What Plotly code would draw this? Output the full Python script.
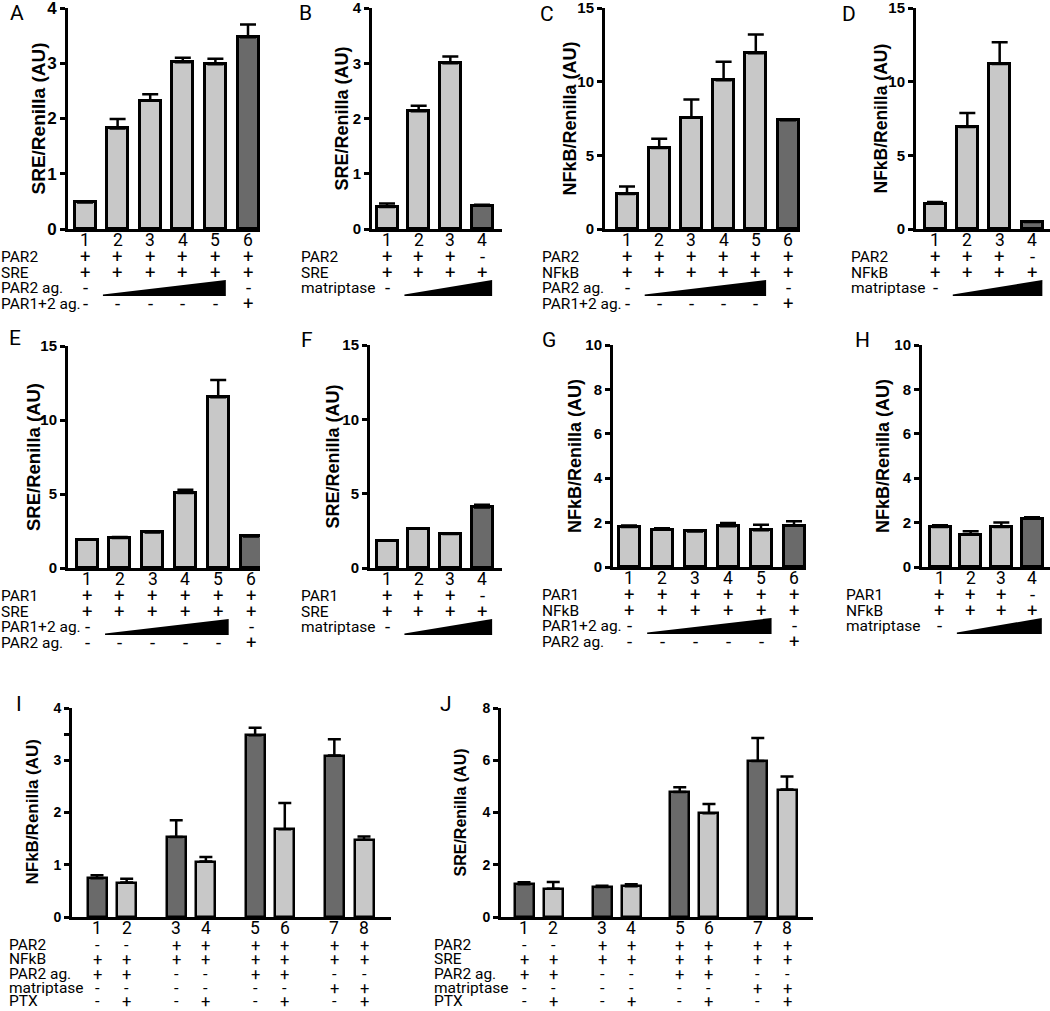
import plotly.graph_objects as go

W, H = 1050, 1011
LIGHT = "#c8c8c8"
DARK = "#6a6a6a"
FONT = "Roboto, 'Open Sans', sans-serif"
BOLD = "'Liberation Sans', Arial, sans-serif"

# ---------------- data ----------------
A_vals = [0.48, 1.82, 2.32, 3.02, 2.98, 3.47]
A_err = [0.0, 0.17, 0.12, 0.08, 0.10, 0.23]
A_dark = [0, 0, 0, 0, 0, 1]

B_vals = [0.40, 2.13, 3.00, 0.42]
B_err = [0.06, 0.10, 0.12, 0.02]
B_dark = [0, 0, 0, 1]

C_vals = [2.38, 5.50, 7.55, 10.10, 11.93, 7.38]
C_err = [0.50, 0.63, 1.24, 1.25, 1.27, 0.05]
C_dark = [0, 0, 0, 0, 0, 1]

D_vals = [1.72, 6.92, 11.20, 0.47]
D_err = [0.11, 0.95, 1.47, 0.0]
D_dark = [0, 0, 0, 1]

E_vals = [1.91, 2.02, 2.40, 5.06, 11.53, 2.13]
E_err = [0.0, 0.07, 0.05, 0.22, 1.17, 0.09]
E_dark = [0, 0, 0, 0, 0, 1]

F_vals = [1.83, 2.64, 2.28, 4.07]
F_err = [0.0, 0.0, 0.0, 0.18]
F_dark = [0, 0, 0, 1]

G_vals = [1.80, 1.68, 1.60, 1.83, 1.65, 1.86]
G_err = [0.07, 0.07, 0.06, 0.15, 0.25, 0.20]
G_dark = [0, 0, 0, 0, 0, 1]

H_vals = [1.80, 1.46, 1.80, 2.18]
H_err = [0.08, 0.15, 0.21, 0.06]
H_dark = [0, 0, 0, 1]

I_vals = [0.74, 0.66, 1.53, 1.06, 3.48, 1.68, 3.09, 1.48]
I_err = [0.06, 0.07, 0.32, 0.09, 0.14, 0.50, 0.31, 0.06]
I_dark = [1, 0, 1, 0, 1, 0, 1, 0]

J_vals = [1.25, 1.08, 1.15, 1.18, 4.78, 3.97, 5.97, 4.88]
J_err = [0.08, 0.26, 0.05, 0.07, 0.19, 0.36, 0.88, 0.50]
J_dark = [1, 0, 1, 0, 1, 0, 1, 0]

# bar positions for panels I/J (four pairs)
PAIR_POS = [0, 1, 2.67, 3.67, 5.33, 6.33, 8, 9]

# condition rows (None marks the concentration wedge)
A_rows = [("PAR2", ["+"] * 6), ("SRE", ["+"] * 6),
          ("PAR2 ag.", ["-", None, None, None, None, "-"]),
          ("PAR1+2 ag.", ["-", "-", "-", "-", "-", "+"])]
B_rows = [("PAR2", ["+", "+", "+", "-"]), ("SRE", ["+"] * 4),
          ("matriptase", ["-", None, None, None])]
C_rows = [("PAR2", ["+"] * 6), ("NFkB", ["+"] * 6),
          ("PAR2 ag.", ["-", None, None, None, None, "-"]),
          ("PAR1+2 ag.", ["-", "-", "-", "-", "-", "+"])]
D_rows = [("PAR2", ["+", "+", "+", "-"]), ("NFkB", ["+"] * 4),
          ("matriptase", ["-", None, None, None])]
E_rows = [("PAR1", ["+"] * 6), ("SRE", ["+"] * 6),
          ("PAR1+2 ag.", ["-", None, None, None, None, "-"]),
          ("PAR2 ag.", ["-", "-", "-", "-", "-", "+"])]
F_rows = [("PAR1", ["+", "+", "+", "-"]), ("SRE", ["+"] * 4),
          ("matriptase", ["-", None, None, None])]
G_rows = [("PAR1", ["+"] * 6), ("NFkB", ["+"] * 6),
          ("PAR1+2 ag.", ["-", None, None, None, None, "-"]),
          ("PAR2 ag.", ["-", "-", "-", "-", "-", "+"])]
H_rows = [("PAR1", ["+", "+", "+", "-"]), ("NFkB", ["+"] * 4),
          ("matriptase", ["-", None, None, None])]
I_rows = [("PAR2", ["-", "-", "+", "+", "+", "+", "+", "+"]),
          ("NFkB", ["+"] * 8),
          ("PAR2 ag.", ["+", "+", "-", "-", "+", "+", "-", "-"]),
          ("matriptase", ["-", "-", "-", "-", "-", "-", "+", "+"]),
          ("PTX", ["-", "+", "-", "+", "-", "+", "-", "+"])]
J_rows = [("PAR2", ["-", "-", "+", "+", "+", "+", "+", "+"]),
          ("SRE", ["+"] * 8),
          ("PAR2 ag.", ["+", "+", "-", "-", "+", "+", "-", "-"]),
          ("matriptase", ["-", "-", "-", "-", "-", "-", "+", "+"]),
          ("PTX", ["-", "+", "-", "+", "-", "+", "-", "+"])]

SRE_T = "SRE/Renilla (AU)"
NFKB_T = "NFkB/Renilla (AU)"

TOP_OFF = [28, 44, 59, 75]
BOT_OFF = [28, 42, 57, 71, 84]

panels = [
    dict(L="A", v=A_vals, e=A_err, d=A_dark, box=(68, 260, 8, 229), c=(85, 248), ymax=4,
         tv=[0, 1, 2, 3, 4], title=SRE_T, rows=A_rows, off=TOP_OFF, lx=0, lp=(17, 13),
         tfs=17, ttl=(38, 19)),
    dict(L="B", v=B_vals, e=B_err, d=B_dark, box=(372, 502, 8, 229), c=(387, 482), ymax=4,
         tv=[0, 1, 2, 3, 4], title=SRE_T, rows=B_rows, off=TOP_OFF, lx=300, lp=(305, 13),
         ttl=(341, 18)),
    dict(L="C", v=C_vals, e=C_err, d=C_dark, box=(605, 800, 8, 229), c=(627, 788), ymax=15,
         tv=[0, 5, 10, 15], title=NFKB_T, rows=C_rows, off=TOP_OFF, lx=541, lp=(547, 14),
         ttl=(569, 18)),
    dict(L="D", v=D_vals, e=D_err, d=D_dark, box=(916, 1050, 8, 229), c=(935, 1032), ymax=15,
         tv=[0, 5, 10, 15], title=NFKB_T, rows=D_rows, off=TOP_OFF, lx=850, lp=(849, 14),
         ttl=(880, 17.5)),
    dict(L="E", v=E_vals, e=E_err, d=E_dark, box=(68, 260, 346, 568), c=(87, 251), ymax=15,
         tv=[0, 5, 10, 15], title=SRE_T, rows=E_rows, off=TOP_OFF, lx=0, lp=(15, 338),
         ttl=(33, 18.5)),
    dict(L="F", v=F_vals, e=F_err, d=F_dark, box=(370, 502, 345, 568), c=(387, 482), ymax=15,
         tv=[0, 5, 10, 15], title=SRE_T, rows=F_rows, off=TOP_OFF, lx=300, lp=(307, 340),
         ttl=(333, 18)),
    dict(L="G", v=G_vals, e=G_err, d=G_dark, box=(613, 806, 345, 567), c=(629, 794), ymax=10,
         tv=[0, 2, 4, 6, 8, 10], title=NFKB_T, rows=G_rows, off=TOP_OFF, lx=541, lp=(549, 340),
         ttl=(575, 18)),
    dict(L="H", v=H_vals, e=H_err, d=H_dark, box=(922, 1050, 345, 567), c=(940, 1032), ymax=10,
         tv=[0, 2, 4, 6, 8, 10], title=NFKB_T, rows=H_rows, off=TOP_OFF, lx=845, lp=(862, 340),
         ttl=(883, 18)),
    dict(L="I", v=I_vals, e=I_err, d=I_dark, box=(72, 391, 708, 917), c=(97, 364), ymax=4,
         tv=[0, 1, 2, 3, 3.5, 4], tt=["0", "1", "2", "3", "", "4"], title=NFKB_T, rows=I_rows,
         off=BOT_OFF, lx=8, lp=(19, 704), pos=PAIR_POS, bw=19, lw=2.5, cap=6.5,
         tfs=14, ttl=(32, 17), sgn=16.5),
    dict(L="J", v=J_vals, e=J_err, d=J_dark, box=(501, 813, 708, 917), c=(524, 787), ymax=8,
         tv=[0, 2, 4, 6, 8], title=SRE_T, rows=J_rows, off=BOT_OFF, lx=433, lp=(446, 704),
         pos=PAIR_POS, bw=19, lw=2.5, cap=6.5, tfs=14, ttl=(460, 16), sgn=16.5),
]

fig = go.Figure()
layout = {}
annotations = []
shapes = []


def txt(x, y, text, xref, xanchor="center", size=15.5, family=FONT, angle=0, weight="normal"):
    annotations.append(dict(x=x, y=y, xref=xref, yref="paper", text=text, showarrow=False,
                            xanchor=xanchor, yanchor="middle", borderpad=0, textangle=angle,
                            font=dict(family=family, size=size, color="black", weight=weight)))


for i, p in enumerate(panels):
    n = i + 1
    sfx = "" if n == 1 else str(n)
    xa, ya = "x" + sfx, "y" + sfx
    nb = len(p["v"])
    pos = p.get("pos", list(range(nb)))
    left, right, top, bottom = p["box"]
    c0, c1 = p["c"]
    s = (c1 - c0) / (pos[-1] - pos[0])
    xr = [pos[0] + (left - c0) / s, pos[0] + (right - c0) / s]
    lw = p.get("lw", 3)
    bw = p.get("bw", 21)
    cap = p.get("cap", 8)
    sgn = p.get("sgn", 18.5)
    colors = [DARK if d else LIGHT for d in p["d"]]

    fig.add_trace(go.Bar(
        x=pos, y=p["v"], width=bw / s, xaxis=xa, yaxis=ya,
        marker=dict(color=colors, line=dict(color="black", width=lw)),
        error_y=dict(type="data", symmetric=False, array=p["e"], arrayminus=[0] * nb,
                     color="black", thickness=2.5, width=cap),
        showlegend=False, hoverinfo="skip"))

    layout["xaxis" + sfx] = dict(
        domain=[left / W, right / W], range=xr, anchor=ya, showline=True,
        linecolor="black", linewidth=3, ticks="", showticklabels=False,
        showgrid=False, zeroline=False, fixedrange=True, automargin=False)
    layout["yaxis" + sfx] = dict(
        domain=[1 - bottom / H, 1 - top / H], range=[0, p["ymax"]], anchor=xa,
        showline=True, linecolor="black", linewidth=3, ticks="outside", ticklen=5,
        tickwidth=2.5, tickcolor="black", tickvals=p["tv"],
        ticktext=p.get("tt", [str(t) for t in p["tv"]]), ticklabeloverflow="allow",
        tickfont=dict(family=BOLD, size=p.get("tfs", 15), color="black", weight="bold"),
        showgrid=False, zeroline=False, fixedrange=True, automargin=False)

    # y-axis title
    tx, tsz = p["ttl"]
    txt(tx / W, 1 - (top + bottom) / 2 / H, p["title"], "paper", size=tsz, family=BOLD,
        angle=-90, weight="bold")

    # numbers under bars
    ynum = 1 - (bottom + 11) / H
    for k in range(nb):
        txt(pos[k], ynum, str(k + 1), xa, size=17.5)
    # condition rows
    for r, (label, entries) in enumerate(p["rows"]):
        yr_px = bottom + p["off"][r]
        yr = 1 - yr_px / H
        txt(p["lx"] / W, yr, label, "paper", xanchor="left")
        wedge = [k for k, e in enumerate(entries) if e is None]
        for k, e in enumerate(entries):
            if e is not None:
                txt(pos[k], yr, e, xa, size=sgn)
        if wedge:
            xl = pos[wedge[0]] - 0.45
            xrt = pos[wedge[-1]] + 0.32
            yb = 1 - (yr_px + 8) / H
            yt = 1 - (yr_px - 8) / H
            ytip = 1 - (yr_px + 6.5) / H
            shapes.append(dict(type="path", xref=xa, yref="paper",
                               path=f"M {xl},{ytip} L {xrt},{yt} L {xrt},{yb} L {xl},{yb} Z",
                               fillcolor="black", line=dict(width=0), layer="above"))
    # panel letter
    lx, ly = p["lp"]
    txt(lx / W, 1 - ly / H, p["L"], "paper", size=21)

fig.update_layout(
    template="none",
    width=W, height=H, margin=dict(l=0, r=0, t=0, b=0, pad=0),
    paper_bgcolor="white", plot_bgcolor="white",
    bargap=0, annotations=annotations, shapes=shapes, **layout)

fig.write_html("out.html", config={"displayModeBar": False},
               post_script="document.body.style.margin='0px';document.body.style.overflow='hidden';")
